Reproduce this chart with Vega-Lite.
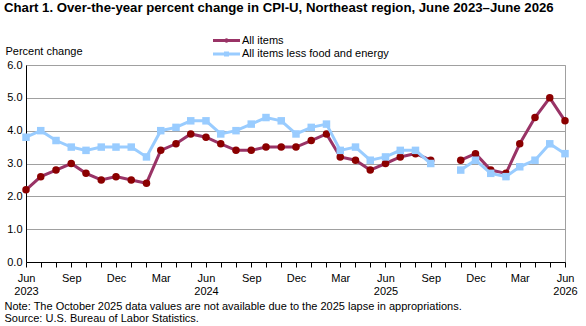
{
  "$schema": "https://vega.github.io/schema/vega-lite/v6.json",
  "width": 539,
  "height": 197,
  "autosize": {"type": "none"},
  "padding": {"left": 26, "top": 65, "right": 21, "bottom": 64},
  "background": "white",
  "title": {
    "text": "Chart 1. Over-the-year percent change in CPI-U, Northeast region, June 2023–June 2026",
    "anchor": "start",
    "frame": "group",
    "font": "Liberation Sans",
    "fontSize": 13.2,
    "fontWeight": "bold",
    "color": "#000000",
    "dx": -22,
    "offset": 20
  },
  "config": {
    "font": "Liberation Sans",
    "view": {"stroke": "#a0a0a0", "strokeWidth": 1},
    "axis": {"labelColor": "#000000", "titleColor": "#000000", "labelFont": "Liberation Sans", "titleFont": "Liberation Sans"},
    "legend": {"labelColor": "#000000", "labelFont": "Liberation Sans"}
  },
  "data": {
    "values": [
      {"month": "2023-06-01", "All items": 2.2, "All items less food and energy": 3.8},
      {"month": "2023-07-01", "All items": 2.6, "All items less food and energy": 4.0},
      {"month": "2023-08-01", "All items": 2.8, "All items less food and energy": 3.7},
      {"month": "2023-09-01", "All items": 3.0, "All items less food and energy": 3.5},
      {"month": "2023-10-01", "All items": 2.7, "All items less food and energy": 3.4},
      {"month": "2023-11-01", "All items": 2.5, "All items less food and energy": 3.5},
      {"month": "2023-12-01", "All items": 2.6, "All items less food and energy": 3.5},
      {"month": "2024-01-01", "All items": 2.5, "All items less food and energy": 3.5},
      {"month": "2024-02-01", "All items": 2.4, "All items less food and energy": 3.2},
      {"month": "2024-03-01", "All items": 3.4, "All items less food and energy": 4.0},
      {"month": "2024-04-01", "All items": 3.6, "All items less food and energy": 4.1},
      {"month": "2024-05-01", "All items": 3.9, "All items less food and energy": 4.3},
      {"month": "2024-06-01", "All items": 3.8, "All items less food and energy": 4.3},
      {"month": "2024-07-01", "All items": 3.6, "All items less food and energy": 3.9},
      {"month": "2024-08-01", "All items": 3.4, "All items less food and energy": 4.0},
      {"month": "2024-09-01", "All items": 3.4, "All items less food and energy": 4.2},
      {"month": "2024-10-01", "All items": 3.5, "All items less food and energy": 4.4},
      {"month": "2024-11-01", "All items": 3.5, "All items less food and energy": 4.3},
      {"month": "2024-12-01", "All items": 3.5, "All items less food and energy": 3.9},
      {"month": "2025-01-01", "All items": 3.7, "All items less food and energy": 4.1},
      {"month": "2025-02-01", "All items": 3.9, "All items less food and energy": 4.2},
      {"month": "2025-03-01", "All items": 3.2, "All items less food and energy": 3.4},
      {"month": "2025-04-01", "All items": 3.1, "All items less food and energy": 3.5},
      {"month": "2025-05-01", "All items": 2.8, "All items less food and energy": 3.1},
      {"month": "2025-06-01", "All items": 3.0, "All items less food and energy": 3.2},
      {"month": "2025-07-01", "All items": 3.2, "All items less food and energy": 3.4},
      {"month": "2025-08-01", "All items": 3.3, "All items less food and energy": 3.4},
      {"month": "2025-09-01", "All items": 3.1, "All items less food and energy": 3.0},
      {"month": "2025-10-01", "All items": null, "All items less food and energy": null},
      {"month": "2025-11-01", "All items": 3.1, "All items less food and energy": 2.8},
      {"month": "2025-12-01", "All items": 3.3, "All items less food and energy": 3.1},
      {"month": "2026-01-01", "All items": 2.8, "All items less food and energy": 2.7},
      {"month": "2026-02-01", "All items": 2.7, "All items less food and energy": 2.6},
      {"month": "2026-03-01", "All items": 3.6, "All items less food and energy": 2.9},
      {"month": "2026-04-01", "All items": 4.4, "All items less food and energy": 3.1},
      {"month": "2026-05-01", "All items": 5.0, "All items less food and energy": 3.6},
      {"month": "2026-06-01", "All items": 4.3, "All items less food and energy": 3.3}
    ]
  },
  "transform": [
    {"fold": ["All items", "All items less food and energy"], "as": ["series", "value"]}
  ],
  "encoding": {
    "x": {
      "field": "month",
      "type": "temporal",
      "scale": {
        "type": "utc",
        "domain": [
          {"year": 2023, "month": 6, "date": 1, "utc": true},
          {"year": 2026, "month": 6, "date": 1, "utc": true}
        ]
      },
      "axis": {
        "title": [
          "Note: The October 2025 data values are not available due to the 2025 lapse in appropriations.",
          "Source: U.S. Bureau of Labor Statistics."
        ],
        "titleX": -22,
        "titleY": 38,
        "titleAlign": "left",
        "titleAnchor": "start",
        "titleBaseline": "top",
        "titleFontWeight": "normal",
        "titleFontSize": 11,
        "titleLineHeight": 12.5,
        "tickCount": {"interval": "month", "step": 1},
        "labelExpr": "utcmonth(datum.value) == 5 ? [utcFormat(datum.value, '%b'), utcFormat(datum.value, '%Y')] : (utcmonth(datum.value) % 3 == 2 ? utcFormat(datum.value, '%b') : '')",
        "labelOverlap": false,
        "labelFlush": false,
        "labelFontSize": 11,
        "labelLineHeight": 13,
        "labelPadding": 5,
        "labelBaseline": "top",
        "grid": false,
        "domainColor": "#000000",
        "tickColor": "#000000",
        "tickSize": 5
      }
    },
    "y": {
      "field": "value",
      "type": "quantitative",
      "scale": {"domain": [0, 6], "nice": false, "zero": true},
      "axis": {
        "title": "Percent change",
        "titleAngle": 0,
        "titleAlign": "left",
        "titleAnchor": "start",
        "titleBaseline": "alphabetic",
        "titleX": -21,
        "titleY": -11,
        "titleFontWeight": "normal",
        "titleFontSize": 11,
        "values": [0, 1, 2, 3, 4, 5, 6],
        "format": ".1f",
        "ticks": false,
        "labelFontSize": 11,
        "labelPadding": 4,
        "domainColor": "#000000",
        "gridColor": "#a0a0a0",
        "gridWidth": 1
      }
    }
  },
  "layer": [
    {
      "transform": [{"filter": "datum.series == 'All items'"}],
      "mark": {"type": "line", "strokeWidth": 3, "invalid": "break-paths-filter-domains"},
      "encoding": {
        "color": {
          "field": "series",
          "type": "nominal",
          "scale": {
            "domain": ["All items", "All items less food and energy"],
            "range": ["#993366", "#99ccff"]
          },
          "legend": {
            "title": null,
            "orient": "none",
            "legendX": 195,
            "legendY": -30,
            "padding": 0,
            "symbolSize": 100,
            "labelFontSize": 11,
            "labelOffset": 10,
            "rowPadding": 1.5,
            "encode": {
              "symbols": {
                "update": {
                  "shape": {"signal": "datum.value == 'All items' ? 'M-2.7,-0.3H2.7V0.3H-2.7Z M0.45,0A0.45,0.45,0,1,1,-0.45,0A0.45,0.45,0,1,1,0.45,0Z' : 'M-2.7,-0.3H2.7V0.3H-2.7Z M-0.5,-0.5H0.5V0.5H-0.5Z'"},
                  "fill": {"scale": "color", "field": "value"},
                  "strokeWidth": {"value": 0},
                  "opacity": {"value": 1}
                }
              }
            }
          }
        }
      }
    },
    {
      "transform": [{"filter": "datum.series == 'All items'"}],
      "mark": {"type": "point", "filled": true, "shape": "circle", "size": 56, "opacity": 1, "color": "#8b0000"}
    },
    {
      "transform": [{"filter": "datum.series == 'All items less food and energy'"}],
      "mark": {"type": "line", "strokeWidth": 3, "invalid": "break-paths-filter-domains"},
      "encoding": {
        "color": {"field": "series", "type": "nominal"}
      }
    },
    {
      "transform": [{"filter": "datum.series == 'All items less food and energy'"}],
      "mark": {"type": "point", "filled": true, "shape": "square", "size": 56, "opacity": 1, "color": "#99ccff"}
    }
  ]
}
